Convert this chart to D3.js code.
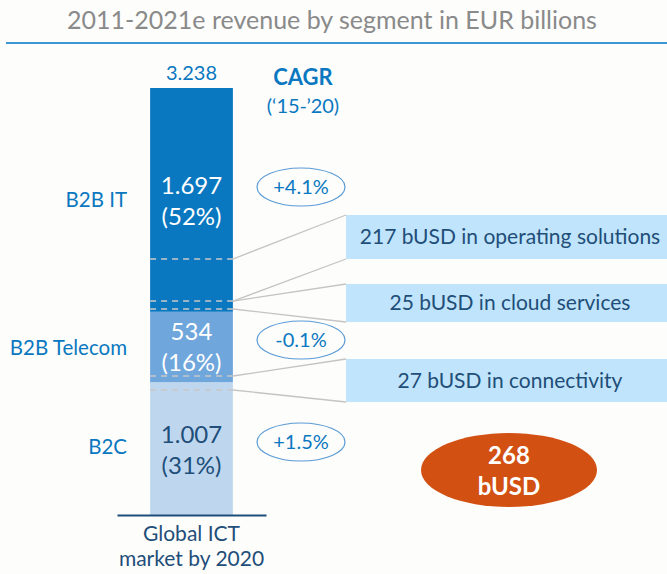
<!DOCTYPE html>
<html><head><meta charset="utf-8">
<script src="https://cdn.jsdelivr.net/npm/d3@7"></script>
<style>
html,body{margin:0;padding:0;background:#fdfdfc;}
svg{display:block;font-family:Lato,"Open Sans",sans-serif;}
</style></head>
<body>
<svg id="chart" width="667" height="574"></svg>
<script>
// ---- data ----
const title = "2011-2021e revenue by segment in EUR billions";
const category = "Global ICT market by 2020";
const categoryLines = ["Global ICT", "market by 2020"];
const segments = ["B2C", "B2B Telecom", "B2B IT"];
const segmentValues = [1007, 534, 1697];
const segmentValueLabels = ["1.007", "534", "1.697"];
const segmentShares = ["(31%)", "(16%)", "(52%)"];
const segmentCagr = ["+1.5%", "-0.1%", "+4.1%"];
const totalLabel = "3.238";
const cagrTitle = ["CAGR", "(\u201815-\u201920)"];
// sub-ranges (in EUR bn on bar scale) highlighted by dashed lines
const subNames = ["217 bUSD in operating solutions", "25 bUSD in cloud services", "27 bUSD in connectivity"];
const subLow = [1622, 1562, 948];
const subHigh = [1941, 1622, 1054];
const sumLabel = ["268", "bUSD"];

// ---- styles ----
const colors = ["#bed7ef", "#6fa6dc", "#0a78c0"];
const textColors = ["#1f4e79", "#ffffff", "#ffffff"];
const blue = "#0a78c0", navy = "#1f4e79";

const svg = d3.select("#chart");
svg.append("rect").attr("width", 667).attr("height", 574).attr("fill", "#fdfdfc");

// title
svg.append("text").attr("x", 332).attr("y", 29).attr("text-anchor", "middle")
  .attr("font-size", 25).attr("fill", "#8a8a8a").text(title);
svg.append("line").attr("x1", 6).attr("x2", 667).attr("y1", 43).attr("y2", 43)
  .attr("stroke", "#3b97d3").attr("stroke-width", 2);

const x = d3.scaleBand().domain([category]).range([117, 266]).paddingInner(0).paddingOuter(0.4);
const y = d3.scaleLinear().domain([0, d3.sum(segmentValues)]).range([515, 88]);

let cum = 0;
const stack = segmentValues.map((v, i) => { const d = {i, y0: cum, y1: cum + v}; cum += v; return d; });

svg.selectAll("rect.seg").data(stack).join("rect").attr("class", "seg")
  .attr("x", x(category)).attr("width", x.bandwidth())
  .attr("y", d => y(d.y1)).attr("height", d => y(d.y0) - y(d.y1))
  .attr("fill", d => colors[d.i]);

// axis baseline
const axis = d3.axisBottom(x).tickSize(0).tickFormat(() => "");
const ag = svg.append("g").attr("transform", "translate(0,515)").call(axis);
ag.select(".domain").attr("stroke", navy).attr("stroke-width", 2);
const cxBar = x(category) + x.bandwidth() / 2;
categoryLines.forEach((t, k) => {
  svg.append("text").attr("x", cxBar).attr("y", 541 + k * 25)
    .attr("text-anchor", "middle").attr("font-size", 21).attr("fill", navy).text(t);
});

// total
svg.append("text").attr("x", cxBar).attr("y", 80)
  .attr("text-anchor", "middle").attr("font-size", 20).attr("fill", blue).text(totalLabel);

// in-bar labels
stack.forEach(d => {
  const cy = (y(d.y0) + y(d.y1)) / 2 + (d.i === 1 ? -1 : 0);
  svg.append("text").attr("x", cxBar).attr("y", cy - 6).attr("text-anchor", "middle")
    .attr("font-size", 24).attr("fill", textColors[d.i]).text(segmentValueLabels[d.i]);
  svg.append("text").attr("x", cxBar).attr("y", cy + 25).attr("text-anchor", "middle")
    .attr("font-size", 24).attr("fill", textColors[d.i]).text(segmentShares[d.i]);
});

// left labels
const leftY = [447, 348, 200];
segments.forEach((s, i) => {
  svg.append("text").attr("x", 127).attr("y", leftY[i] + 7).attr("text-anchor", "end")
    .attr("font-size", 20.5).attr("fill", blue).text(s);
});

// CAGR heading
svg.append("text").attr("x", 303).attr("y", 85).attr("text-anchor", "middle")
  .attr("font-size", 22).attr("font-weight", "bold").attr("fill", blue).text(cagrTitle[0]);
svg.append("text").attr("x", 303).attr("y", 113).attr("text-anchor", "middle")
  .attr("font-size", 20).attr("fill", blue).text(cagrTitle[1]);

// CAGR ellipses
const cagrY = [442, 340, 187];
segmentCagr.forEach((c, i) => {
  svg.append("ellipse").attr("cx", 301).attr("cy", cagrY[i]).attr("rx", 44).attr("ry", 19)
    .attr("fill", "none").attr("stroke", "#5b9bd5").attr("stroke-width", 1.2);
  svg.append("text").attr("x", 301).attr("y", cagrY[i] + 7).attr("text-anchor", "middle")
    .attr("font-size", 20).attr("fill", blue).text(c);
});

// dashed lines
const dashVals = Array.from(new Set(subLow.concat(subHigh))).sort((a, b) => b - a);
dashVals.forEach(v => {
  svg.append("line").attr("x1", x(category)).attr("x2", x(category) + x.bandwidth())
    .attr("y1", y(v)).attr("y2", y(v)).attr("stroke", "#c8c8c8").attr("stroke-width", 1.5)
    .attr("stroke-dasharray", "6,5");
});

// boxes + connectors
const boxTop = [215, 284, 359], boxBot = [259, 322, 402];
const bx = 346, barR = x(category) + x.bandwidth();
subNames.forEach((n, i) => {
  svg.append("rect").attr("x", bx).attr("y", boxTop[i]).attr("width", 667 - bx)
    .attr("height", boxBot[i] - boxTop[i]).attr("fill", "#bfe4fb");
  svg.append("text").attr("x", 510).attr("y", (boxTop[i] + boxBot[i]) / 2 + 7)
    .attr("text-anchor", "middle").attr("font-size", 21).attr("fill", navy).text(n);
  svg.append("line").attr("x1", barR).attr("y1", y(subHigh[i])).attr("x2", bx).attr("y2", boxTop[i])
    .attr("stroke", "#c4c4c4").attr("stroke-width", 1.3);
  svg.append("line").attr("x1", barR).attr("y1", y(subLow[i])).attr("x2", bx).attr("y2", boxBot[i])
    .attr("stroke", "#c4c4c4").attr("stroke-width", 1.3);
});

// total ellipse
svg.append("ellipse").attr("cx", 509).attr("cy", 470).attr("rx", 88).attr("ry", 37).attr("fill", "#d35013");
svg.append("text").attr("x", 509).attr("y", 464).attr("text-anchor", "middle").attr("font-size", 24)
  .attr("font-weight", "bold").attr("fill", "#fff").text(sumLabel[0]);
svg.append("text").attr("x", 509).attr("y", 495).attr("text-anchor", "middle").attr("font-size", 24)
  .attr("font-weight", "bold").attr("fill", "#fff").text(sumLabel[1]);
</script>
</body></html>
